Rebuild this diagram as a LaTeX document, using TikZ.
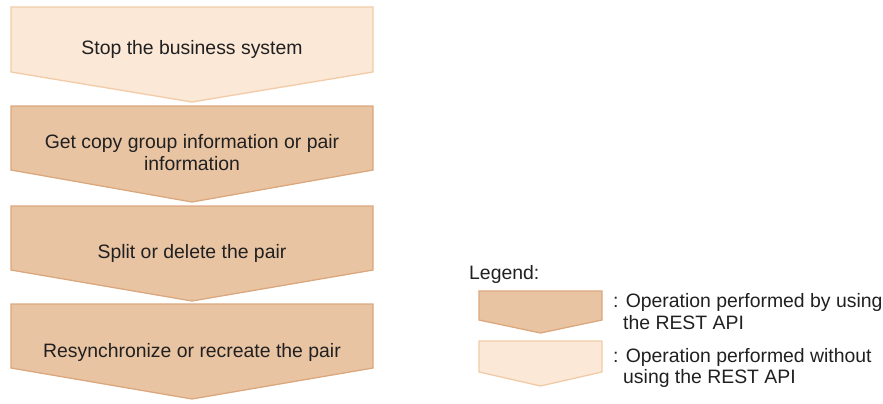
\documentclass[tikz,border=0pt]{standalone}
\usepackage{fontspec}
\setmainfont{Liberation Sans}
\definecolor{darkfill}{HTML}{E9C4A3}
\definecolor{darkline}{HTML}{DBA87E}
\definecolor{lightfill}{HTML}{FBE8D7}
\definecolor{lightline}{HTML}{F1CBA7}
\definecolor{txt}{HTML}{202020}
\tikzset{
  darkchev/.style={fill=darkfill,draw=darkline,line width=1.3bp,line join=miter},
  lightchev/.style={fill=lightfill,draw=lightline,line width=1.3bp,line join=miter},
  lbl/.style={font=\fontsize{19.4bp}{22bp}\selectfont,text=txt,inner sep=0pt,anchor=base,align=center},
  leglbl/.style={font=\fontsize{19.4bp}{22bp}\selectfont,text=txt,inner sep=0pt,anchor=base west,align=left}
}
% #1 style, #2 left, #3 right, #4 top, #5 shoulder, #6 tip
\newcommand\chevshape[6]{%
  \path[#1] (#2,#4) -- (#3,#4) -- (#3,#5) -- ({(#2+#3)/2},#6) -- (#2,#5) -- cycle;}
\begin{document}
\begin{tikzpicture}[x=1bp,y=-1bp]
\useasboundingbox (0,0) rectangle (883,403);
\chevshape{lightchev}{11}{373}{7}{72}{102}
\chevshape{darkchev}{11}{373}{106}{170}{202}
\chevshape{darkchev}{11}{373}{206}{270}{301}
\chevshape{darkchev}{11}{373}{304}{368}{399}
\node[lbl] (s1) at (192,54) {Stop the business system};
\node[lbl] (s2a) at (192,148) {Get copy group information or pair};
\node[lbl] (s2b) at (192,170) {information};
\node[lbl] (s3) at (192,258) {Split or delete the pair};
\node[lbl] (s4) at (192,357) {Resynchronize or recreate the pair};
% legend
\node[leglbl] (leg) at (469,279) {Legend:};
\chevshape{darkchev}{479}{602}{291}{320}{333}
\chevshape{lightchev}{479}{602}{341}{372}{386}
\node[leglbl] (l1a) at (613,307) {: Operation performed by using};
\node[leglbl] (l1b) at (623,329) {the REST API};
\node[leglbl] (l2a) at (613,362) {: Operation performed without};
\node[leglbl] (l2b) at (623,383) {using the REST API};
\end{tikzpicture}
\end{document}
